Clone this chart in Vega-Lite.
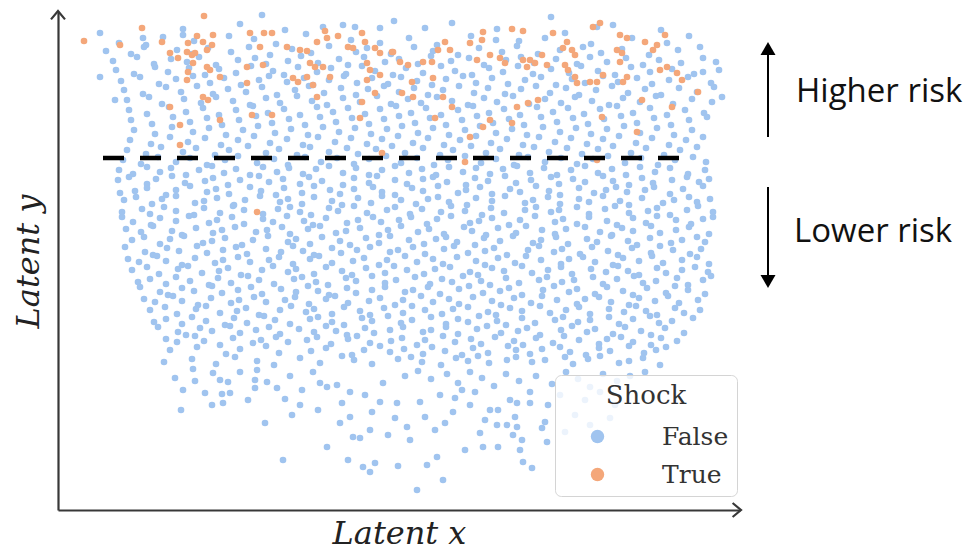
{
"$schema":"https://vega.github.io/schema/vega-lite/v6.json",
"width":682,"height":498,
"padding":{"left":58,"top":12,"right":228,"bottom":42},
"autosize":{"type":"none"},
"background":"white",
"config":{"view":{"stroke":null}},
"datasets":{
"neg":[
{"x":262,"y":15},{"x":240,"y":24},{"x":551,"y":17},{"x":323,"y":27},{"x":452,"y":23},{"x":497,"y":29},{"x":613,"y":25},{"x":394,"y":21},{"x":183,"y":29},{"x":661,"y":30},{"x":285,"y":30},{"x":425,"y":28},{"x":343,"y":25},{"x":355,"y":27},{"x":380,"y":28},{"x":597,"y":27},
{"x":100,"y":33},{"x":119,"y":43},{"x":163,"y":37},{"x":194,"y":41},{"x":229,"y":36},{"x":276,"y":44},{"x":306,"y":34},{"x":351,"y":40},{"x":409,"y":38},{"x":437,"y":45},{"x":471,"y":36},{"x":519,"y":41},{"x":565,"y":33},{"x":591,"y":44},{"x":632,"y":38},{"x":667,"y":43},{"x":689,"y":36},{"x":146,"y":45},{"x":254,"y":39},{"x":380,"y":43},{"x":496,"y":40},{"x":545,"y":38},{"x":143,"y":38},{"x":183,"y":35},
{"x":106,"y":51},{"x":131,"y":54},{"x":144,"y":47},{"x":177,"y":50},{"x":192,"y":54},{"x":208,"y":48},{"x":231,"y":52},{"x":249,"y":47},{"x":270,"y":55},{"x":292,"y":49},{"x":311,"y":53},{"x":329,"y":46},{"x":356,"y":52},{"x":367,"y":48},{"x":391,"y":54},{"x":414,"y":47},{"x":433,"y":51},{"x":458,"y":55},{"x":479,"y":48},{"x":502,"y":52},{"x":517,"y":46},{"x":538,"y":54},{"x":560,"y":50},{"x":583,"y":47},{"x":601,"y":53},{"x":622,"y":49},{"x":649,"y":55},{"x":678,"y":50},{"x":700,"y":47},
{"x":113,"y":61},{"x":137,"y":57},{"x":154,"y":64},{"x":171,"y":59},{"x":187,"y":62},{"x":199,"y":57},{"x":216,"y":65},{"x":238,"y":60},{"x":255,"y":58},{"x":266,"y":64},{"x":288,"y":61},{"x":301,"y":56},{"x":318,"y":63},{"x":339,"y":59},{"x":348,"y":65},{"x":364,"y":57},{"x":385,"y":62},{"x":399,"y":59},{"x":418,"y":64},{"x":431,"y":56},{"x":451,"y":61},{"x":469,"y":58},{"x":484,"y":65},{"x":506,"y":60},{"x":521,"y":57},{"x":534,"y":63},{"x":556,"y":59},{"x":577,"y":64},{"x":590,"y":57},{"x":607,"y":62},{"x":626,"y":58},{"x":643,"y":65},{"x":659,"y":60},{"x":681,"y":63},{"x":703,"y":58},{"x":716,"y":62},
{"x":116,"y":70},{"x":134,"y":74},{"x":155,"y":67},{"x":168,"y":72},{"x":189,"y":68},{"x":205,"y":75},{"x":219,"y":69},{"x":236,"y":73},{"x":251,"y":66},{"x":273,"y":71},{"x":284,"y":75},{"x":298,"y":67},{"x":317,"y":72},{"x":331,"y":68},{"x":346,"y":74},{"x":362,"y":66},{"x":375,"y":71},{"x":393,"y":75},{"x":406,"y":68},{"x":423,"y":73},{"x":441,"y":66},{"x":455,"y":71},{"x":472,"y":75},{"x":489,"y":68},{"x":503,"y":72},{"x":518,"y":66},{"x":533,"y":74},{"x":551,"y":69},{"x":569,"y":73},{"x":581,"y":66},{"x":598,"y":71},{"x":615,"y":75},{"x":631,"y":67},{"x":650,"y":72},{"x":672,"y":69},{"x":694,"y":74},{"x":719,"y":70},{"x":100,"y":77},{"x":703,"y":72},
{"x":121,"y":81},{"x":140,"y":77},{"x":159,"y":84},{"x":176,"y":79},{"x":193,"y":76},{"x":210,"y":83},{"x":224,"y":78},{"x":241,"y":85},{"x":259,"y":80},{"x":269,"y":76},{"x":287,"y":82},{"x":304,"y":78},{"x":313,"y":85},{"x":329,"y":80},{"x":344,"y":76},{"x":357,"y":83},{"x":372,"y":78},{"x":388,"y":84},{"x":401,"y":77},{"x":417,"y":81},{"x":432,"y":85},{"x":446,"y":79},{"x":463,"y":76},{"x":476,"y":83},{"x":492,"y":78},{"x":508,"y":84},{"x":525,"y":80},{"x":541,"y":77},{"x":556,"y":85},{"x":572,"y":79},{"x":585,"y":83},{"x":603,"y":76},{"x":618,"y":82},{"x":637,"y":78},{"x":652,"y":84},{"x":669,"y":80},{"x":688,"y":77},{"x":711,"y":83},
{"x":124,"y":90},{"x":143,"y":94},{"x":166,"y":87},{"x":181,"y":92},{"x":197,"y":86},{"x":213,"y":94},{"x":228,"y":89},{"x":246,"y":92},{"x":262,"y":87},{"x":277,"y":95},{"x":295,"y":90},{"x":309,"y":86},{"x":324,"y":93},{"x":341,"y":88},{"x":356,"y":95},{"x":368,"y":89},{"x":384,"y":86},{"x":399,"y":92},{"x":414,"y":88},{"x":428,"y":95},{"x":443,"y":90},{"x":459,"y":86},{"x":474,"y":93},{"x":488,"y":88},{"x":505,"y":94},{"x":521,"y":89},{"x":536,"y":86},{"x":550,"y":93},{"x":566,"y":88},{"x":579,"y":95},{"x":596,"y":90},{"x":612,"y":86},{"x":628,"y":93},{"x":645,"y":89},{"x":661,"y":95},{"x":679,"y":88},{"x":697,"y":92},{"x":714,"y":87},
{"x":127,"y":100},{"x":149,"y":97},{"x":162,"y":104},{"x":184,"y":99},{"x":201,"y":103},{"x":216,"y":97},{"x":233,"y":101},{"x":250,"y":105},{"x":266,"y":98},{"x":280,"y":103},{"x":297,"y":96},{"x":312,"y":101},{"x":327,"y":105},{"x":343,"y":98},{"x":360,"y":102},{"x":377,"y":96},{"x":391,"y":104},{"x":408,"y":99},{"x":421,"y":103},{"x":437,"y":97},{"x":452,"y":101},{"x":468,"y":105},{"x":484,"y":98},{"x":497,"y":102},{"x":513,"y":96},{"x":529,"y":104},{"x":545,"y":99},{"x":561,"y":103},{"x":575,"y":97},{"x":592,"y":101},{"x":609,"y":105},{"x":623,"y":98},{"x":640,"y":102},{"x":656,"y":96},{"x":673,"y":104},{"x":692,"y":99},{"x":722,"y":97},{"x":115,"y":100},{"x":712,"y":102},
{"x":129,"y":110},{"x":147,"y":114},{"x":169,"y":107},{"x":186,"y":112},{"x":203,"y":108},{"x":219,"y":115},{"x":236,"y":110},{"x":253,"y":106},{"x":268,"y":113},{"x":284,"y":109},{"x":300,"y":115},{"x":317,"y":107},{"x":333,"y":112},{"x":348,"y":108},{"x":365,"y":114},{"x":380,"y":109},{"x":396,"y":106},{"x":411,"y":113},{"x":426,"y":108},{"x":441,"y":115},{"x":458,"y":110},{"x":473,"y":106},{"x":489,"y":113},{"x":504,"y":109},{"x":520,"y":115},{"x":537,"y":107},{"x":553,"y":112},{"x":568,"y":108},{"x":584,"y":114},{"x":600,"y":109},{"x":617,"y":106},{"x":633,"y":113},{"x":650,"y":108},{"x":667,"y":115},{"x":685,"y":110},{"x":704,"y":113},
{"x":131,"y":120},{"x":152,"y":124},{"x":173,"y":117},{"x":190,"y":122},{"x":207,"y":118},{"x":222,"y":125},{"x":239,"y":120},{"x":256,"y":116},{"x":272,"y":123},{"x":289,"y":119},{"x":305,"y":125},{"x":320,"y":117},{"x":336,"y":122},{"x":352,"y":118},{"x":369,"y":124},{"x":384,"y":119},{"x":399,"y":116},{"x":415,"y":123},{"x":430,"y":118},{"x":446,"y":125},{"x":462,"y":120},{"x":477,"y":116},{"x":493,"y":123},{"x":509,"y":119},{"x":524,"y":125},{"x":541,"y":117},{"x":557,"y":122},{"x":573,"y":118},{"x":588,"y":124},{"x":604,"y":119},{"x":621,"y":116},{"x":637,"y":123},{"x":654,"y":118},{"x":671,"y":125},{"x":689,"y":120},{"x":707,"y":117},
{"x":134,"y":130},{"x":155,"y":134},{"x":172,"y":127},{"x":193,"y":132},{"x":209,"y":128},{"x":226,"y":135},{"x":243,"y":130},{"x":258,"y":126},{"x":275,"y":133},{"x":291,"y":129},{"x":308,"y":135},{"x":323,"y":127},{"x":339,"y":132},{"x":355,"y":128},{"x":371,"y":134},{"x":387,"y":129},{"x":402,"y":126},{"x":418,"y":133},{"x":433,"y":128},{"x":449,"y":135},{"x":465,"y":130},{"x":480,"y":126},{"x":496,"y":133},{"x":512,"y":129},{"x":527,"y":135},{"x":543,"y":127},{"x":560,"y":132},{"x":576,"y":128},{"x":591,"y":134},{"x":607,"y":129},{"x":624,"y":126},{"x":640,"y":133},{"x":657,"y":128},{"x":674,"y":135},{"x":692,"y":130},
{"x":130,"y":140},{"x":151,"y":144},{"x":170,"y":137},{"x":188,"y":142},{"x":205,"y":138},{"x":221,"y":145},{"x":238,"y":140},{"x":254,"y":136},{"x":270,"y":143},{"x":287,"y":139},{"x":303,"y":145},{"x":318,"y":137},{"x":335,"y":142},{"x":351,"y":138},{"x":367,"y":144},{"x":382,"y":139},{"x":398,"y":136},{"x":413,"y":143},{"x":428,"y":138},{"x":444,"y":145},{"x":460,"y":140},{"x":476,"y":136},{"x":491,"y":143},{"x":507,"y":139},{"x":523,"y":145},{"x":539,"y":137},{"x":555,"y":142},{"x":571,"y":138},{"x":587,"y":144},{"x":603,"y":139},{"x":619,"y":136},{"x":636,"y":143},{"x":652,"y":138},{"x":669,"y":145},{"x":686,"y":140},{"x":703,"y":137},
{"x":127,"y":150},{"x":146,"y":154},{"x":161,"y":147},{"x":183,"y":152},{"x":196,"y":148},{"x":215,"y":155},{"x":229,"y":150},{"x":248,"y":146},{"x":266,"y":153},{"x":279,"y":149},{"x":297,"y":155},{"x":310,"y":147},{"x":329,"y":152},{"x":347,"y":148},{"x":358,"y":154},{"x":376,"y":149},{"x":392,"y":146},{"x":405,"y":153},{"x":423,"y":148},{"x":440,"y":155},{"x":453,"y":150},{"x":471,"y":146},{"x":486,"y":153},{"x":500,"y":149},{"x":519,"y":155},{"x":534,"y":147},{"x":549,"y":152},{"x":567,"y":148},{"x":582,"y":154},{"x":598,"y":149},{"x":613,"y":146},{"x":631,"y":153},{"x":646,"y":148},{"x":664,"y":155},{"x":680,"y":150},{"x":697,"y":147},
{"x":123,"y":160},{"x":141,"y":164},{"x":158,"y":157},{"x":176,"y":162},{"x":190,"y":158},{"x":207,"y":165},{"x":225,"y":160},{"x":238,"y":156},{"x":257,"y":163},{"x":274,"y":159},{"x":288,"y":165},{"x":305,"y":157},{"x":321,"y":162},{"x":337,"y":158},{"x":354,"y":164},{"x":369,"y":159},{"x":386,"y":156},{"x":401,"y":163},{"x":417,"y":158},{"x":434,"y":165},{"x":448,"y":160},{"x":465,"y":156},{"x":481,"y":163},{"x":496,"y":159},{"x":514,"y":165},{"x":528,"y":157},{"x":545,"y":162},{"x":561,"y":158},{"x":577,"y":164},{"x":593,"y":159},{"x":608,"y":156},{"x":625,"y":163},{"x":641,"y":158},{"x":658,"y":165},{"x":675,"y":160},{"x":693,"y":157},{"x":706,"y":162},
{"x":119,"y":170},{"x":133,"y":174},{"x":147,"y":167},{"x":160,"y":172},{"x":171,"y":168},{"x":186,"y":175},{"x":199,"y":170},{"x":212,"y":166},{"x":224,"y":173},{"x":236,"y":169},{"x":250,"y":175},{"x":263,"y":167},{"x":277,"y":172},{"x":289,"y":168},{"x":303,"y":174},{"x":316,"y":169},{"x":329,"y":166},{"x":343,"y":173},{"x":356,"y":168},{"x":369,"y":175},{"x":382,"y":170},{"x":395,"y":166},{"x":409,"y":173},{"x":422,"y":169},{"x":436,"y":175},{"x":449,"y":167},{"x":463,"y":172},{"x":476,"y":168},{"x":490,"y":174},{"x":503,"y":169},{"x":517,"y":166},{"x":530,"y":173},{"x":544,"y":168},{"x":557,"y":175},{"x":571,"y":170},{"x":585,"y":166},{"x":598,"y":173},{"x":612,"y":169},{"x":626,"y":175},{"x":640,"y":167},{"x":655,"y":172},{"x":670,"y":168},{"x":688,"y":174},{"x":705,"y":170},
{"x":118,"y":180},{"x":129,"y":177},{"x":147,"y":184},{"x":156,"y":179},{"x":172,"y":176},{"x":185,"y":183},{"x":205,"y":181},{"x":213,"y":178},{"x":228,"y":185},{"x":240,"y":180},{"x":259,"y":176},{"x":269,"y":182},{"x":283,"y":179},{"x":300,"y":184},{"x":309,"y":177},{"x":322,"y":181},{"x":343,"y":185},{"x":354,"y":178},{"x":369,"y":183},{"x":377,"y":176},{"x":395,"y":180},{"x":407,"y":184},{"x":423,"y":179},{"x":433,"y":177},{"x":447,"y":182},{"x":466,"y":185},{"x":475,"y":178},{"x":488,"y":181},{"x":505,"y":176},{"x":516,"y":183},{"x":531,"y":180},{"x":551,"y":177},{"x":559,"y":184},{"x":573,"y":179},{"x":585,"y":182},{"x":603,"y":176},{"x":613,"y":181},{"x":629,"y":185},{"x":642,"y":178},{"x":653,"y":183},{"x":672,"y":180},{"x":687,"y":177},{"x":699,"y":182},{"x":709,"y":179},
{"x":120,"y":193},{"x":135,"y":191},{"x":147,"y":188},{"x":166,"y":195},{"x":176,"y":190},{"x":190,"y":186},{"x":207,"y":192},{"x":216,"y":189},{"x":229,"y":194},{"x":250,"y":187},{"x":261,"y":191},{"x":276,"y":195},{"x":284,"y":188},{"x":302,"y":193},{"x":314,"y":186},{"x":330,"y":190},{"x":340,"y":194},{"x":354,"y":189},{"x":373,"y":187},{"x":382,"y":192},{"x":395,"y":195},{"x":412,"y":188},{"x":423,"y":191},{"x":438,"y":186},{"x":458,"y":193},{"x":466,"y":190},{"x":480,"y":187},{"x":492,"y":194},{"x":510,"y":189},{"x":520,"y":192},{"x":536,"y":186},{"x":549,"y":191},{"x":560,"y":195},{"x":579,"y":188},{"x":594,"y":193},{"x":606,"y":190},{"x":616,"y":187},{"x":627,"y":192},{"x":645,"y":190},{"x":654,"y":187},{"x":670,"y":194},{"x":683,"y":189},{"x":703,"y":186},
{"x":124,"y":200},{"x":136,"y":197},{"x":152,"y":204},{"x":162,"y":199},{"x":176,"y":196},{"x":195,"y":203},{"x":204,"y":201},{"x":217,"y":198},{"x":234,"y":205},{"x":245,"y":200},{"x":260,"y":196},{"x":280,"y":202},{"x":288,"y":199},{"x":302,"y":204},{"x":314,"y":197},{"x":332,"y":201},{"x":342,"y":205},{"x":358,"y":198},{"x":371,"y":203},{"x":382,"y":196},{"x":401,"y":200},{"x":416,"y":204},{"x":428,"y":199},{"x":438,"y":197},{"x":449,"y":202},{"x":467,"y":205},{"x":476,"y":198},{"x":492,"y":201},{"x":505,"y":196},{"x":525,"y":203},{"x":533,"y":200},{"x":548,"y":197},{"x":560,"y":204},{"x":579,"y":199},{"x":589,"y":202},{"x":603,"y":196},{"x":620,"y":201},{"x":629,"y":205},{"x":642,"y":198},{"x":663,"y":203},{"x":674,"y":200},{"x":689,"y":197},{"x":697,"y":202},{"x":710,"y":199},
{"x":122,"y":212},{"x":142,"y":209},{"x":150,"y":214},{"x":164,"y":207},{"x":176,"y":211},{"x":194,"y":215},{"x":204,"y":208},{"x":220,"y":213},{"x":233,"y":206},{"x":244,"y":210},{"x":263,"y":214},{"x":278,"y":209},{"x":290,"y":207},{"x":300,"y":212},{"x":311,"y":215},{"x":329,"y":208},{"x":338,"y":211},{"x":354,"y":206},{"x":367,"y":213},{"x":387,"y":210},{"x":395,"y":207},{"x":410,"y":214},{"x":422,"y":209},{"x":441,"y":212},{"x":451,"y":206},{"x":465,"y":211},{"x":482,"y":215},{"x":491,"y":208},{"x":504,"y":213},{"x":525,"y":210},{"x":536,"y":207},{"x":551,"y":212},{"x":559,"y":210},{"x":577,"y":207},{"x":589,"y":214},{"x":605,"y":209},{"x":615,"y":206},{"x":629,"y":213},{"x":648,"y":211},{"x":657,"y":208},{"x":670,"y":215},{"x":687,"y":210},{"x":698,"y":206},{"x":713,"y":212},
{"x":122,"y":217},{"x":133,"y":222},{"x":151,"y":225},{"x":160,"y":218},{"x":176,"y":221},{"x":189,"y":216},{"x":209,"y":223},{"x":217,"y":220},{"x":232,"y":217},{"x":244,"y":224},{"x":263,"y":219},{"x":273,"y":222},{"x":287,"y":216},{"x":304,"y":221},{"x":313,"y":225},{"x":326,"y":218},{"x":347,"y":223},{"x":358,"y":220},{"x":373,"y":217},{"x":381,"y":222},{"x":399,"y":220},{"x":411,"y":217},{"x":427,"y":224},{"x":437,"y":219},{"x":451,"y":216},{"x":470,"y":223},{"x":479,"y":221},{"x":492,"y":218},{"x":509,"y":225},{"x":520,"y":220},{"x":535,"y":216},{"x":555,"y":222},{"x":563,"y":219},{"x":577,"y":224},{"x":589,"y":217},{"x":607,"y":221},{"x":617,"y":225},{"x":633,"y":218},{"x":646,"y":223},{"x":657,"y":216},{"x":676,"y":220},{"x":691,"y":224},{"x":703,"y":219},{"x":713,"y":217},
{"x":126,"y":229},{"x":141,"y":232},{"x":153,"y":226},{"x":172,"y":231},{"x":182,"y":235},{"x":196,"y":228},{"x":213,"y":233},{"x":222,"y":230},{"x":235,"y":227},{"x":256,"y":232},{"x":267,"y":230},{"x":282,"y":227},{"x":290,"y":234},{"x":308,"y":229},{"x":320,"y":226},{"x":336,"y":233},{"x":346,"y":231},{"x":360,"y":228},{"x":379,"y":235},{"x":388,"y":230},{"x":401,"y":226},{"x":418,"y":232},{"x":429,"y":229},{"x":444,"y":234},{"x":464,"y":227},{"x":472,"y":231},{"x":486,"y":235},{"x":498,"y":228},{"x":516,"y":233},{"x":526,"y":226},{"x":542,"y":230},{"x":555,"y":234},{"x":566,"y":229},{"x":585,"y":227},{"x":600,"y":232},{"x":612,"y":235},{"x":622,"y":228},{"x":633,"y":231},{"x":651,"y":226},{"x":660,"y":233},{"x":676,"y":230},{"x":689,"y":227},{"x":709,"y":234},
{"x":132,"y":240},{"x":144,"y":237},{"x":160,"y":244},{"x":170,"y":239},{"x":184,"y":236},{"x":203,"y":243},{"x":212,"y":241},{"x":225,"y":238},{"x":242,"y":245},{"x":253,"y":240},{"x":268,"y":236},{"x":288,"y":242},{"x":296,"y":239},{"x":310,"y":244},{"x":322,"y":237},{"x":340,"y":241},{"x":350,"y":245},{"x":366,"y":238},{"x":379,"y":243},{"x":390,"y":236},{"x":409,"y":240},{"x":424,"y":244},{"x":436,"y":239},{"x":446,"y":237},{"x":457,"y":242},{"x":475,"y":245},{"x":484,"y":238},{"x":500,"y":241},{"x":513,"y":236},{"x":533,"y":243},{"x":541,"y":240},{"x":556,"y":237},{"x":568,"y":244},{"x":587,"y":239},{"x":597,"y":242},{"x":611,"y":236},{"x":628,"y":241},{"x":637,"y":245},{"x":650,"y":238},{"x":671,"y":243},{"x":682,"y":240},{"x":697,"y":237},{"x":705,"y":242},
{"x":125,"y":247},{"x":145,"y":252},{"x":153,"y":255},{"x":167,"y":248},{"x":179,"y":251},{"x":197,"y":246},{"x":207,"y":253},{"x":223,"y":250},{"x":236,"y":247},{"x":247,"y":254},{"x":266,"y":249},{"x":281,"y":252},{"x":293,"y":246},{"x":303,"y":251},{"x":314,"y":255},{"x":332,"y":248},{"x":341,"y":253},{"x":357,"y":250},{"x":370,"y":247},{"x":390,"y":252},{"x":398,"y":250},{"x":413,"y":247},{"x":425,"y":254},{"x":444,"y":249},{"x":454,"y":246},{"x":468,"y":253},{"x":485,"y":251},{"x":494,"y":248},{"x":507,"y":255},{"x":528,"y":250},{"x":539,"y":246},{"x":554,"y":252},{"x":562,"y":249},{"x":580,"y":254},{"x":592,"y":247},{"x":608,"y":251},{"x":618,"y":255},{"x":632,"y":248},{"x":651,"y":253},{"x":660,"y":246},{"x":673,"y":250},{"x":690,"y":254},{"x":701,"y":249},
{"x":128,"y":259},{"x":139,"y":262},{"x":157,"y":256},{"x":166,"y":261},{"x":182,"y":265},{"x":195,"y":258},{"x":215,"y":263},{"x":223,"y":260},{"x":238,"y":257},{"x":250,"y":262},{"x":269,"y":260},{"x":279,"y":257},{"x":293,"y":264},{"x":310,"y":259},{"x":319,"y":256},{"x":332,"y":263},{"x":353,"y":261},{"x":364,"y":258},{"x":379,"y":265},{"x":387,"y":260},{"x":405,"y":256},{"x":417,"y":262},{"x":433,"y":259},{"x":443,"y":264},{"x":457,"y":257},{"x":476,"y":261},{"x":485,"y":265},{"x":498,"y":258},{"x":515,"y":263},{"x":526,"y":256},{"x":541,"y":260},{"x":561,"y":264},{"x":569,"y":259},{"x":583,"y":257},{"x":595,"y":262},{"x":613,"y":265},{"x":623,"y":258},{"x":639,"y":261},{"x":652,"y":256},{"x":663,"y":263},{"x":682,"y":260},{"x":697,"y":257},{"x":709,"y":264},
{"x":132,"y":270},{"x":147,"y":267},{"x":159,"y":274},{"x":178,"y":269},{"x":188,"y":266},{"x":202,"y":273},{"x":219,"y":271},{"x":228,"y":268},{"x":241,"y":275},{"x":262,"y":270},{"x":273,"y":266},{"x":288,"y":272},{"x":296,"y":269},{"x":314,"y":274},{"x":326,"y":267},{"x":342,"y":271},{"x":352,"y":275},{"x":366,"y":268},{"x":385,"y":273},{"x":394,"y":266},{"x":407,"y":270},{"x":424,"y":274},{"x":435,"y":269},{"x":450,"y":267},{"x":470,"y":272},{"x":478,"y":275},{"x":492,"y":268},{"x":504,"y":271},{"x":522,"y":266},{"x":532,"y":273},{"x":548,"y":270},{"x":561,"y":267},{"x":572,"y":274},{"x":591,"y":269},{"x":606,"y":272},{"x":618,"y":266},{"x":628,"y":271},{"x":639,"y":275},{"x":657,"y":268},{"x":666,"y":273},{"x":682,"y":270},{"x":695,"y":267},{"x":708,"y":272},
{"x":138,"y":282},{"x":150,"y":279},{"x":166,"y":284},{"x":176,"y":277},{"x":190,"y":281},{"x":209,"y":285},{"x":218,"y":278},{"x":231,"y":283},{"x":248,"y":276},{"x":259,"y":280},{"x":274,"y":284},{"x":294,"y":279},{"x":302,"y":277},{"x":316,"y":282},{"x":328,"y":285},{"x":346,"y":278},{"x":356,"y":281},{"x":372,"y":276},{"x":385,"y":283},{"x":396,"y":280},{"x":415,"y":277},{"x":430,"y":284},{"x":442,"y":279},{"x":452,"y":282},{"x":463,"y":276},{"x":481,"y":281},{"x":490,"y":285},{"x":506,"y":278},{"x":519,"y":283},{"x":539,"y":280},{"x":547,"y":277},{"x":562,"y":282},{"x":574,"y":280},{"x":593,"y":277},{"x":603,"y":284},{"x":617,"y":279},{"x":634,"y":276},{"x":643,"y":283},{"x":656,"y":281},{"x":677,"y":278},{"x":688,"y":285},{"x":703,"y":280},{"x":711,"y":276},
{"x":140,"y":287},{"x":160,"y":292},{"x":168,"y":295},{"x":182,"y":288},{"x":194,"y":291},{"x":212,"y":286},{"x":222,"y":293},{"x":238,"y":290},{"x":251,"y":287},{"x":262,"y":294},{"x":281,"y":289},{"x":296,"y":292},{"x":308,"y":286},{"x":318,"y":291},{"x":329,"y":295},{"x":347,"y":288},{"x":356,"y":293},{"x":372,"y":290},{"x":385,"y":287},{"x":405,"y":292},{"x":413,"y":290},{"x":428,"y":287},{"x":440,"y":294},{"x":459,"y":289},{"x":469,"y":286},{"x":483,"y":293},{"x":500,"y":291},{"x":509,"y":288},{"x":522,"y":295},{"x":543,"y":290},{"x":554,"y":286},{"x":569,"y":292},{"x":577,"y":289},{"x":595,"y":294},{"x":607,"y":287},{"x":623,"y":291},{"x":633,"y":295},{"x":647,"y":288},{"x":666,"y":293},{"x":675,"y":286},{"x":688,"y":290},{"x":705,"y":294},
{"x":144,"y":299},{"x":155,"y":302},{"x":173,"y":296},{"x":182,"y":301},{"x":198,"y":305},{"x":211,"y":298},{"x":231,"y":303},{"x":239,"y":300},{"x":254,"y":297},{"x":266,"y":302},{"x":285,"y":300},{"x":295,"y":297},{"x":309,"y":304},{"x":326,"y":299},{"x":335,"y":296},{"x":348,"y":303},{"x":369,"y":301},{"x":380,"y":298},{"x":395,"y":305},{"x":403,"y":300},{"x":421,"y":296},{"x":433,"y":302},{"x":449,"y":299},{"x":459,"y":304},{"x":473,"y":297},{"x":492,"y":301},{"x":501,"y":305},{"x":514,"y":298},{"x":531,"y":303},{"x":542,"y":296},{"x":557,"y":300},{"x":577,"y":304},{"x":585,"y":299},{"x":599,"y":297},{"x":611,"y":302},{"x":629,"y":305},{"x":639,"y":298},{"x":655,"y":301},{"x":668,"y":296},{"x":679,"y":303},{"x":698,"y":300},
{"x":150,"y":310},{"x":165,"y":307},{"x":177,"y":314},{"x":196,"y":309},{"x":206,"y":306},{"x":220,"y":313},{"x":237,"y":311},{"x":246,"y":308},{"x":259,"y":315},{"x":280,"y":310},{"x":291,"y":306},{"x":306,"y":312},{"x":314,"y":309},{"x":332,"y":314},{"x":344,"y":307},{"x":360,"y":311},{"x":370,"y":315},{"x":384,"y":308},{"x":403,"y":313},{"x":412,"y":306},{"x":425,"y":310},{"x":442,"y":314},{"x":453,"y":309},{"x":468,"y":307},{"x":488,"y":312},{"x":496,"y":315},{"x":510,"y":308},{"x":522,"y":311},{"x":540,"y":306},{"x":550,"y":313},{"x":566,"y":310},{"x":579,"y":307},{"x":590,"y":314},{"x":609,"y":309},{"x":624,"y":312},{"x":636,"y":306},{"x":646,"y":311},{"x":657,"y":315},{"x":675,"y":308},{"x":684,"y":313},{"x":700,"y":310},
{"x":154,"y":322},{"x":166,"y":319},{"x":182,"y":324},{"x":192,"y":317},{"x":206,"y":321},{"x":225,"y":325},{"x":234,"y":318},{"x":247,"y":323},{"x":264,"y":316},{"x":275,"y":320},{"x":290,"y":324},{"x":310,"y":319},{"x":318,"y":317},{"x":332,"y":322},{"x":344,"y":325},{"x":362,"y":318},{"x":372,"y":321},{"x":388,"y":316},{"x":401,"y":323},{"x":412,"y":320},{"x":431,"y":317},{"x":446,"y":324},{"x":458,"y":319},{"x":468,"y":322},{"x":479,"y":316},{"x":497,"y":321},{"x":506,"y":325},{"x":522,"y":318},{"x":535,"y":323},{"x":555,"y":320},{"x":563,"y":317},{"x":578,"y":322},{"x":590,"y":320},{"x":609,"y":317},{"x":619,"y":324},{"x":633,"y":319},{"x":650,"y":316},{"x":659,"y":323},{"x":672,"y":321},{"x":693,"y":318},
{"x":158,"y":327},{"x":178,"y":332},{"x":186,"y":335},{"x":200,"y":328},{"x":212,"y":331},{"x":230,"y":326},{"x":240,"y":333},{"x":256,"y":330},{"x":269,"y":327},{"x":280,"y":334},{"x":299,"y":329},{"x":314,"y":332},{"x":326,"y":326},{"x":336,"y":331},{"x":347,"y":335},{"x":365,"y":328},{"x":374,"y":333},{"x":390,"y":330},{"x":403,"y":327},{"x":423,"y":332},{"x":431,"y":330},{"x":446,"y":327},{"x":458,"y":334},{"x":477,"y":329},{"x":487,"y":326},{"x":501,"y":333},{"x":518,"y":331},{"x":527,"y":328},{"x":540,"y":335},{"x":561,"y":330},{"x":572,"y":326},{"x":587,"y":332},{"x":595,"y":329},{"x":613,"y":334},{"x":625,"y":327},{"x":641,"y":331},{"x":651,"y":335},{"x":665,"y":328},{"x":684,"y":333},
{"x":166,"y":339},{"x":177,"y":342},{"x":195,"y":336},{"x":204,"y":341},{"x":220,"y":345},{"x":233,"y":338},{"x":253,"y":343},{"x":261,"y":340},{"x":276,"y":337},{"x":288,"y":342},{"x":307,"y":340},{"x":317,"y":337},{"x":331,"y":344},{"x":348,"y":339},{"x":357,"y":336},{"x":370,"y":343},{"x":391,"y":341},{"x":402,"y":338},{"x":417,"y":345},{"x":425,"y":340},{"x":443,"y":336},{"x":455,"y":342},{"x":471,"y":339},{"x":481,"y":344},{"x":495,"y":337},{"x":514,"y":341},{"x":523,"y":345},{"x":536,"y":338},{"x":553,"y":343},{"x":564,"y":336},{"x":579,"y":340},{"x":599,"y":344},{"x":607,"y":339},{"x":621,"y":337},{"x":633,"y":342},{"x":651,"y":345},{"x":661,"y":338},{"x":677,"y":341},
{"x":170,"y":350},{"x":197,"y":347},{"x":226,"y":354},{"x":240,"y":349},{"x":266,"y":346},{"x":279,"y":353},{"x":311,"y":351},{"x":326,"y":348},{"x":352,"y":355},{"x":364,"y":350},{"x":380,"y":346},{"x":390,"y":352},{"x":404,"y":349},{"x":423,"y":354},{"x":432,"y":347},{"x":445,"y":351},{"x":462,"y":355},{"x":473,"y":348},{"x":488,"y":353},{"x":508,"y":346},{"x":516,"y":350},{"x":530,"y":354},{"x":542,"y":349},{"x":560,"y":347},{"x":570,"y":352},{"x":586,"y":355},{"x":599,"y":348},{"x":610,"y":351},{"x":629,"y":346},{"x":644,"y":353},{"x":656,"y":350},{"x":666,"y":347},
{"x":164,"y":362},{"x":192,"y":359},{"x":216,"y":364},{"x":235,"y":357},{"x":257,"y":361},{"x":274,"y":365},{"x":300,"y":358},{"x":320,"y":363},{"x":342,"y":356},{"x":354,"y":360},{"x":372,"y":364},{"x":398,"y":359},{"x":411,"y":357},{"x":422,"y":362},{"x":441,"y":365},{"x":456,"y":358},{"x":468,"y":361},{"x":478,"y":356},{"x":489,"y":363},{"x":507,"y":360},{"x":516,"y":357},{"x":532,"y":362},{"x":545,"y":360},{"x":565,"y":357},{"x":573,"y":364},{"x":588,"y":359},{"x":600,"y":356},{"x":619,"y":363},{"x":629,"y":361},{"x":643,"y":358},{"x":660,"y":365},
{"x":193,"y":369},{"x":195,"y":381},{"x":205,"y":393},{"x":212,"y":405},{"x":222,"y":394},{"x":230,"y":393},{"x":181,"y":410},{"x":223,"y":403},{"x":213,"y":373},{"x":220,"y":380},{"x":228,"y":382},{"x":257,"y":370},{"x":255,"y":380},{"x":255,"y":388},{"x":267,"y":382},{"x":277,"y":388},{"x":285,"y":399},{"x":265,"y":423},{"x":283,"y":460},{"x":302,"y":390},{"x":313,"y":372},{"x":320,"y":383},{"x":327,"y":387},{"x":337,"y":385},{"x":350,"y":392},{"x":340,"y":423},{"x":350,"y":417},{"x":327,"y":447},{"x":348,"y":460},{"x":363,"y":467},{"x":370,"y":472},{"x":375,"y":463},{"x":353,"y":437},{"x":360,"y":438},{"x":370,"y":430},{"x":372,"y":412},{"x":380,"y":402},{"x":383,"y":383},{"x":397,"y":403},{"x":388,"y":435},{"x":398,"y":466},{"x":407,"y":427},{"x":410,"y":440},{"x":417,"y":490},{"x":427,"y":465},{"x":420,"y":402},{"x":425,"y":417},{"x":435,"y":430},{"x":437,"y":457},{"x":445,"y":423},{"x":443,"y":480},{"x":453,"y":412},{"x":462,"y":390},{"x":465,"y":450},{"x":480,"y":433},{"x":483,"y":447},{"x":498,"y":447},{"x":490,"y":410},{"x":498,"y":410},{"x":497,"y":425},{"x":507,"y":425},{"x":515,"y":417},{"x":517,"y":427},{"x":513,"y":435},{"x":522,"y":440},{"x":520,"y":450},{"x":523,"y":462},{"x":532,"y":468},{"x":542,"y":428},{"x":547,"y":442},{"x":545,"y":422},{"x":548,"y":405},{"x":530,"y":403},{"x":530,"y":392},{"x":510,"y":400},{"x":517,"y":403},
{"x":405,"y":376},{"x":418,"y":371},{"x":431,"y":379},{"x":447,"y":374},{"x":458,"y":383},{"x":470,"y":372},{"x":482,"y":378},{"x":494,"y":386},{"x":506,"y":374},{"x":519,"y":381},{"x":536,"y":376},{"x":552,"y":384},{"x":566,"y":372},{"x":578,"y":379},{"x":590,"y":387},{"x":603,"y":374},{"x":617,"y":381},{"x":630,"y":376},{"x":645,"y":372},{"x":440,"y":395},{"x":475,"y":392},{"x":560,"y":395},{"x":585,"y":400},{"x":600,"y":392},{"x":615,"y":405},{"x":575,"y":415},{"x":590,"y":425},{"x":610,"y":418},{"x":565,"y":432},{"x":240,"y":372},{"x":248,"y":400},{"x":175,"y":378},{"x":183,"y":390},{"x":290,"y":376},{"x":300,"y":405},{"x":470,"y":405},{"x":455,"y":398},{"x":485,"y":420},{"x":395,"y":418},{"x":365,"y":395},{"x":342,"y":403},{"x":318,"y":410},{"x":292,"y":415}
],
"pos":[
{"x":84,"y":41},{"x":120,"y":45},{"x":142,"y":28},{"x":204,"y":16},{"x":162,"y":42},{"x":170,"y":53},{"x":178,"y":58},{"x":188,"y":43},{"x":187,"y":52},{"x":192,"y":55},{"x":197,"y":36},{"x":195,"y":53},{"x":203,"y":42},{"x":213,"y":35},{"x":212,"y":45},{"x":207,"y":50},{"x":193,"y":63},{"x":188,"y":72},{"x":187,"y":80},{"x":210,"y":70},{"x":207,"y":67},{"x":170,"y":107},{"x":180,"y":125},{"x":180,"y":145},{"x":203,"y":97},{"x":220,"y":120},{"x":250,"y":33},{"x":264,"y":33},{"x":272,"y":33},{"x":260,"y":47},{"x":263,"y":65},{"x":247,"y":67},{"x":252,"y":115},{"x":272,"y":115},{"x":287,"y":47},{"x":300,"y":50},{"x":307,"y":51},{"x":325,"y":31},{"x":327,"y":38},{"x":338,"y":36},{"x":317,"y":42},{"x":310,"y":63},{"x":315,"y":67},{"x":293,"y":78},{"x":298,"y":82},{"x":307,"y":77},{"x":313,"y":85},{"x":317,"y":97},{"x":323,"y":67},{"x":330,"y":77},{"x":348,"y":47},{"x":353,"y":48},{"x":362,"y":33},{"x":365,"y":42},{"x":367,"y":63},{"x":375,"y":48},{"x":380,"y":53},{"x":393,"y":52},{"x":370,"y":70},{"x":367,"y":80},{"x":375,"y":93},{"x":380,"y":75},{"x":362,"y":102},{"x":360,"y":118},{"x":382,"y":153},{"x":247,"y":83},{"x":220,"y":77},{"x":208,"y":100},
{"x":400,"y":62},{"x":408,"y":65},{"x":423,"y":62},{"x":432,"y":62},{"x":438,"y":50},{"x":445,"y":42},{"x":450,"y":50},{"x":470,"y":43},{"x":482,"y":40},{"x":483,"y":32},{"x":512,"y":29},{"x":523,"y":31},{"x":553,"y":33},{"x":567,"y":42},{"x":563,"y":48},{"x":572,"y":50},{"x":477,"y":60},{"x":490,"y":55},{"x":500,"y":58},{"x":505,"y":63},{"x":523,"y":60},{"x":530,"y":60},{"x":535,"y":63},{"x":542,"y":55},{"x":527,"y":67},{"x":565,"y":65},{"x":568,"y":70},{"x":575,"y":77},{"x":577,"y":83},{"x":590,"y":82},{"x":597,"y":82},{"x":603,"y":75},{"x":600,"y":23},{"x":593,"y":27},{"x":620,"y":35},{"x":627,"y":38},{"x":617,"y":50},{"x":622,"y":53},{"x":620,"y":62},{"x":627,"y":77},{"x":623,"y":82},{"x":645,"y":42},{"x":657,"y":45},{"x":665,"y":35},{"x":653,"y":50},{"x":660,"y":70},{"x":667,"y":67},{"x":682,"y":80},{"x":677,"y":73},{"x":698,"y":92},{"x":672,"y":107},{"x":642,"y":100},{"x":637,"y":132},{"x":602,"y":117},{"x":575,"y":55},{"x":547,"y":65},{"x":433,"y":78},{"x":412,"y":82},{"x":402,"y":93},{"x":413,"y":97},{"x":443,"y":97},{"x":452,"y":107},{"x":435,"y":118},{"x":470,"y":137},{"x":483,"y":127},{"x":490,"y":120},{"x":512,"y":123},{"x":517,"y":107},{"x":528,"y":103},{"x":538,"y":100},{"x":597,"y":160},{"x":465,"y":162},{"x":392,"y":52},{"x":257,"y":212}
]
},
"layer":[
{
"data":{"name":"neg"},
"mark":{"type":"circle","size":44,"opacity":1},
"encoding":{
"x":{"field":"x","type":"quantitative","scale":{"domain":[58,740],"nice":false,"zero":false},
"axis":{"domain":true,"domainColor":"#383838","domainWidth":2.2,"ticks":false,"labels":false,"grid":false,"title":"Latent x","titleFont":"DejaVu Serif","titleFontStyle":"italic","titleFontWeight":"normal","titleFontSize":32,"titleColor":"#222222","titlePadding":8}},
"y":{"field":"y","type":"quantitative","scale":{"domain":[12,510],"nice":false,"zero":false,"reverse":true},
"axis":{"domain":true,"domainColor":"#383838","domainWidth":2.2,"ticks":false,"labels":false,"grid":false,"title":"Latent y","titleFont":"DejaVu Serif","titleFontStyle":"italic","titleFontWeight":"normal","titleFontSize":32,"titleColor":"#222222","titlePadding":13}},
"color":{"datum":"False","type":"nominal","scale":{"domain":["False","True"],"range":["#a0c4ef","#f4a77a"]},
"legend":{"orient":"none","legendX":497,"legendY":363,"title":"Shock","titleFont":"DejaVu Serif","titleFontSize":26,"titleFontWeight":"normal","titleColor":"#333333","titleAnchor":"middle","titlePadding":15,"labelFont":"DejaVu Serif","labelFontSize":25,"labelColor":"#333333","symbolType":"circle","symbolSize":180,"symbolStrokeWidth":0,"symbolOpacity":1,"padding":8,"symbolOffset":22,"labelOffset":52,"rowPadding":12,"fillColor":"rgba(255,255,255,0.8)","strokeColor":"#d4d4d4","cornerRadius":6}}
}
},
{
"data":{"name":"pos"},
"mark":{"type":"circle","size":44,"opacity":1},
"encoding":{
"x":{"field":"x","type":"quantitative"},
"y":{"field":"y","type":"quantitative"},
"color":{"datum":"True","type":"nominal"}
}
},
{
"data":{"values":[{}]},
"mark":{"type":"rule","color":"#000000","strokeWidth":4.5,"strokeDash":[21,16],"strokeCap":"butt"},
"encoding":{"x":{"datum":103,"type":"quantitative"},"x2":{"datum":688},"y":{"datum":158,"type":"quantitative"}}
},
{
"data":{"values":[{}]},
"mark":{"type":"point","shape":"M-1.2,-1L0,0L-1.2,1","size":196,"filled":false,"stroke":"#383838","strokeWidth":2.2,"opacity":1},
"encoding":{"x":{"datum":741,"type":"quantitative"},"y":{"datum":510,"type":"quantitative"}}
},
{
"data":{"values":[{}]},
"mark":{"type":"point","shape":"M-1,1.2L0,0L1,1.2","size":196,"filled":false,"stroke":"#383838","strokeWidth":2.2,"opacity":1},
"encoding":{"x":{"datum":58,"type":"quantitative"},"y":{"datum":11,"type":"quantitative"}}
},
{
"data":{"values":[{}]},
"mark":{"type":"rule","color":"#000000","strokeWidth":2},
"encoding":{"x":{"datum":768,"type":"quantitative"},"y":{"datum":52,"type":"quantitative"},"y2":{"datum":137}}
},
{
"data":{"values":[{}]},
"mark":{"type":"rule","color":"#000000","strokeWidth":2},
"encoding":{"x":{"datum":768,"type":"quantitative"},"y":{"datum":187,"type":"quantitative"},"y2":{"datum":278}}
},
{
"data":{"values":[{}]},
"mark":{"type":"point","shape":"triangle-up","size":225,"filled":true,"color":"#000000","opacity":1},
"encoding":{"x":{"datum":768,"type":"quantitative"},"y":{"datum":48.5,"type":"quantitative"}}
},
{
"data":{"values":[{}]},
"mark":{"type":"point","shape":"triangle-down","size":225,"filled":true,"color":"#000000","opacity":1},
"encoding":{"x":{"datum":768,"type":"quantitative"},"y":{"datum":281.5,"type":"quantitative"}}
},
{
"data":{"values":[{}]},
"mark":{"type":"text","text":"Higher risk","align":"left","baseline":"alphabetic","font":"Open Sans","fontSize":33,"color":"#111111"},
"encoding":{"x":{"datum":796,"type":"quantitative"},"y":{"datum":102,"type":"quantitative"}}
},
{
"data":{"values":[{}]},
"mark":{"type":"text","text":"Lower risk","align":"left","baseline":"alphabetic","font":"Open Sans","fontSize":33,"color":"#111111"},
"encoding":{"x":{"datum":794,"type":"quantitative"},"y":{"datum":242,"type":"quantitative"}}
}
]
}
